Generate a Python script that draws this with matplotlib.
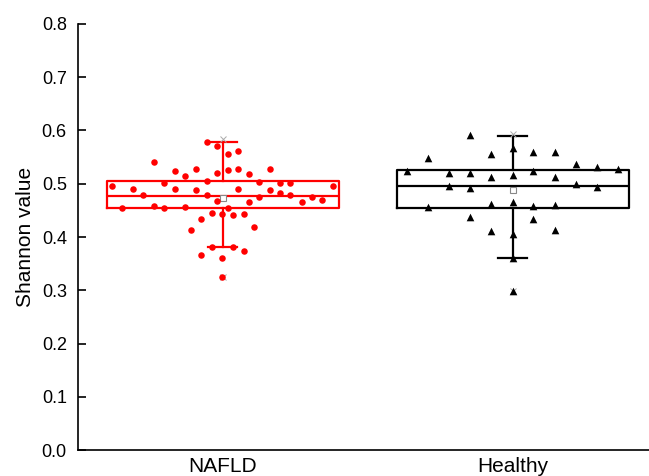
import matplotlib.pyplot as plt

plt.rcParams['font.family'] = ['Liberation Sans', 'DejaVu Sans']

groups = ["NAFLD", "Healthy"]
colors = ["#ff0000", "#000000"]
markers = ["o", "^"]

# box statistics
q1 = [0.454, 0.454]
med = [0.477, 0.496]
q3 = [0.505, 0.526]
whislo = [0.381, 0.361]
whishi = [0.578, 0.590]
means = [0.473, 0.488]
mins = [0.324, 0.299]
maxs = [0.584, 0.594]

# individual samples: horizontal jitter and Shannon value
nafld_dx = [-0.056, -0.022, 0.016, 0.053, -0.238, -0.166, -0.129, -0.093, -0.022, 0.016,
            0.053, 0.090, 0.162, -0.056, 0.125, 0.197, 0.233, -0.384, -0.202, -0.311,
            -0.166, -0.093, 0.053, 0.162, 0.197, 0.380, -0.275, -0.056, 0.125, 0.233,
            0.306, -0.022, 0.090, 0.271, 0.343, -0.348, -0.238, -0.202, -0.129, 0.016,
            -0.039, -0.002, 0.034, 0.071, -0.075, -0.111, 0.107, -0.038, 0.034, -0.075,
            -0.002, 0.071, -0.002]
nafld_val = [0.579, 0.570, 0.556, 0.562, 0.540, 0.524, 0.515, 0.527, 0.520, 0.526,
             0.527, 0.518, 0.527, 0.506, 0.503, 0.502, 0.502, 0.496, 0.501, 0.490,
             0.491, 0.488, 0.490, 0.489, 0.483, 0.495, 0.478, 0.478, 0.475, 0.479,
             0.476, 0.468, 0.466, 0.466, 0.469, 0.455, 0.459, 0.454, 0.456, 0.455,
             0.446, 0.443, 0.441, 0.443, 0.433, 0.414, 0.419, 0.382, 0.382, 0.367,
             0.361, 0.374, 0.324]
healthy_dx = [-0.148, 0.000, 0.070, 0.145, -0.292, -0.074, 0.216, 0.289, 0.361, -0.367,
              -0.220, -0.148, -0.074, 0.000, 0.070, 0.145, -0.220, -0.148, 0.216, 0.289,
              -0.292, -0.074, 0.000, 0.070, 0.145, -0.148, 0.070, -0.074, 0.145, 0.000,
              0.000, 0.000]
healthy_val = [0.592, 0.567, 0.560, 0.560, 0.549, 0.556, 0.538, 0.532, 0.527, 0.523,
               0.521, 0.521, 0.513, 0.516, 0.524, 0.512, 0.496, 0.492, 0.499, 0.493,
               0.457, 0.462, 0.466, 0.459, 0.461, 0.437, 0.434, 0.412, 0.413, 0.406,
               0.361, 0.299]

dx_all = [nafld_dx, healthy_dx]
val_all = [nafld_val, healthy_val]

fig = plt.figure(figsize=(6.49, 4.76), dpi=100)
ax = fig.add_axes([0.120, 0.0546, 0.880, 0.895])

for i in range(2):
    pos = i + 1
    st = [dict(med=med[i], q1=q1[i], q3=q3[i], whislo=whislo[i], whishi=whishi[i],
               mean=means[i], fliers=[])]
    c = colors[i]
    ax.bxp(st, positions=[pos], widths=0.8, capwidths=0.10, showmeans=True,
           boxprops=dict(color=c, linewidth=1.6),
           medianprops=dict(color=c, linewidth=1.6),
           whiskerprops=dict(color=c, linewidth=1.6),
           capprops=dict(color=c, linewidth=1.6),
           meanprops=dict(marker='s', markersize=4, markerfacecolor='white',
                          markeredgecolor='#888888', markeredgewidth=0.8))
    # min / max markers
    ax.plot([pos, pos], [mins[i], maxs[i]], linestyle='none', marker='x',
            markersize=4, color='#aaaaaa', markeredgewidth=0.7, zorder=2)
    xs = [pos + d for d in dx_all[i]]
    ax.scatter(xs, val_all[i], s=22 if i == 0 else 30, marker=markers[i],
               color=c, linewidths=0, zorder=5)

ax.set_xlim(0.5, 2.469)
ax.set_ylim(0, 0.8)
ax.set_yticks([0.0, 0.1, 0.2, 0.3, 0.4, 0.5, 0.6, 0.7, 0.8])
ax.set_yticklabels(["%.1f" % v for v in ax.get_yticks()])
ax.set_xticks([1, 2])
ax.set_xticklabels(groups, fontsize=15)
ax.set_ylabel("Shannon value", fontsize=15, labelpad=5)

for s in ["top", "right"]:
    ax.spines[s].set_visible(False)
for s in ["left", "bottom"]:
    ax.spines[s].set_linewidth(1.2)

ax.tick_params(axis='y', direction='in', length=6, width=1.2, labelsize=13, pad=8)
ax.tick_params(axis='x', length=0, pad=5)

fig.savefig("out.png", dpi=100)
